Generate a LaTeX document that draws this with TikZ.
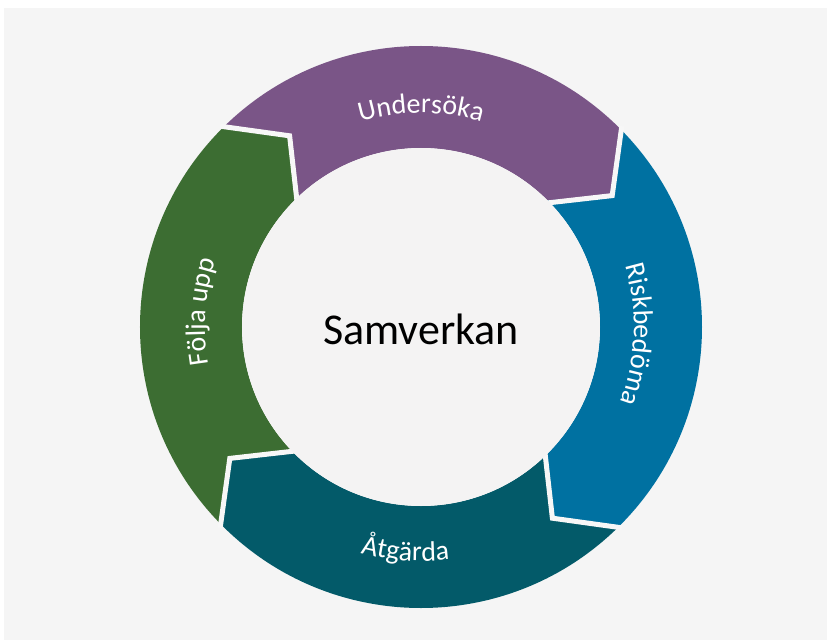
\documentclass[tikz,border=0pt]{standalone}
\usepackage{fontspec}
\setmainfont{Carlito}
\usetikzlibrary{decorations.text}
\definecolor{bgc}{HTML}{F5F5F5}
\definecolor{innerc}{HTML}{F4F3F3}
\definecolor{gapc}{HTML}{F7F7F7}
\definecolor{cpurple}{HTML}{7A5587}
\definecolor{cblue}{HTML}{0071A1}
\definecolor{cteal}{HTML}{035A69}
\definecolor{cgreen}{HTML}{3C6D32}
\newcommand\labfont{\fontsize{28}{30}\selectfont}
\tikzset{
  gapline/.style={draw=gapc, line width=5pt, line join=miter},
  ringlabel/.style={decorate, decoration={text along path, text align=center, text color=white, text={|\labfont|#1}}}
}
\begin{document}
\begin{tikzpicture}[x=1pt,y=1pt]
\useasboundingbox (-421,-313) rectangle (406,327);
\fill[bgc] (-417,-313) rectangle (406,319);
% ring segments
\foreach \s/\c in {135/cpurple, 45/cblue, -45/cteal, -135/cgreen} {
  \pgfmathsetmacro\e{\s-90}
  \pgfmathsetmacro\te{\s-100.5}
  \pgfmathsetmacro\ts{\s-10.5}
  \fill[\c] (\s:281) arc[start angle=\s, end angle=\e, radius=281]
    -- (\te:232) -- (\e:179)
    arc[start angle=\e, end angle=\s, radius=179]
    -- (\ts:232) -- cycle;
}
% gaps between segments
\foreach \a in {45,-45,-135,135} {
  \pgfmathsetmacro\ta{\a-10.5}
  \draw[gapline] (\a:284) -- (\ta:232) -- (\a:175);
}
% centre
\node[circle, fill=innerc, minimum size=358pt, inner sep=0pt] (center) at (0,0) {};
\node[font=\fontsize{44}{50}\selectfont, text=black] (samverkan) at (0,-2) {Samverkan};
% labels
\path[ringlabel={Undersöka}] (135:214) arc[start angle=135, end angle=45, radius=214];
\path[ringlabel={Riskbedöma}] (43:213) arc[start angle=43, end angle=-47, radius=213];
\path[ringlabel={Åtgärda}] (221:234) arc[start angle=221, end angle=311, radius=234];
\path[ringlabel={Följa upp}] (221:216) arc[start angle=221, end angle=131, radius=216];
\end{tikzpicture}
\end{document}
